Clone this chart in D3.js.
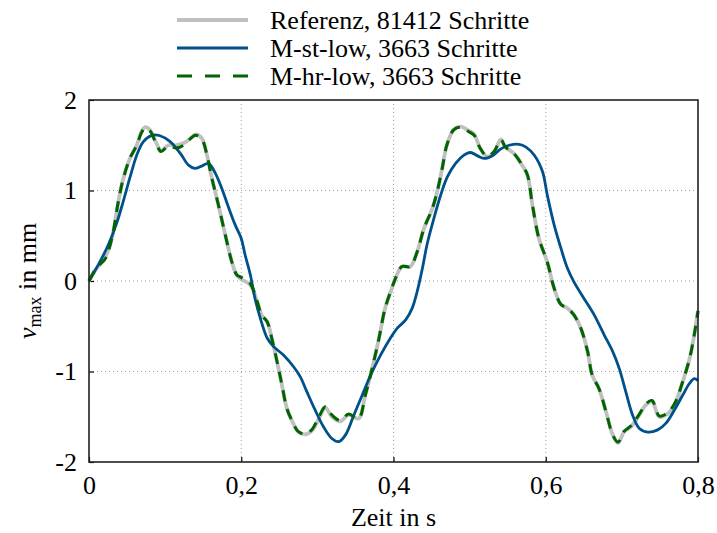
<!DOCTYPE html>
<html>
<head>
<meta charset="utf-8">
<script src="https://cdn.jsdelivr.net/npm/d3@7"></script>
<style>
  body { margin: 0; background: #fff; }
  text { font-family: "Liberation Serif", "DejaVu Serif", serif; fill: #000; }
</style>
</head>
<body>
<div id="chart"></div>
<script>
// Zeit in s / v_max in mm
const refT = [0, 0.010, 0.021, 0.030, 0.0386, 0.045, 0.054, 0.0627, 0.069, 0.0737, 0.080, 0.0877, 0.0947, 0.104, 0.115, 0.126, 0.134, 0.140, 0.148, 0.155, 0.161, 0.170, 0.179, 0.188, 0.194, 0.200,
  0.212, 0.221, 0.227, 0.234, 0.240, 0.247, 0.2535, 0.260, 0.267, 0.275, 0.284, 0.293, 0.302, 0.3105, 0.319, 0.330, 0.341, 0.354, 0.363, 0.372, 0.381, 0.389, 0.397,
  0.4026, 0.411, 0.422, 0.431, 0.440, 0.451, 0.4575, 0.464, 0.470, 0.479, 0.488, 0.499, 0.506, 0.514, 0.523, 0.532, 0.541, 0.547, 0.558, 0.569, 0.576, 0.5825, 0.591,
  0.602, 0.611, 0.620, 0.6285, 0.637, 0.646, 0.655, 0.661, 0.670, 0.679, 0.688, 0.695, 0.703, 0.712, 0.723, 0.7315, 0.7395, 0.749, 0.758, 0.769, 0.780, 0.789, 0.795, 0.800];
const refV = [0, 0.14, 0.26, 0.47, 0.88, 1.13, 1.36, 1.50, 1.65, 1.70, 1.67, 1.54, 1.44, 1.50, 1.50, 1.53, 1.58, 1.62, 1.58, 1.39, 1.15, 0.84, 0.51, 0.20, 0.066, 0.02,
  -0.044, -0.23, -0.38, -0.45, -0.63, -0.89, -1.15, -1.41, -1.55, -1.665, -1.695, -1.65, -1.52, -1.40, -1.50, -1.55, -1.48, -1.52, -1.26, -0.965, -0.63, -0.30, -0.10,
  0.03, 0.16, 0.16, 0.32, 0.58, 0.80, 0.99, 1.245, 1.50, 1.67, 1.705, 1.66, 1.62, 1.465, 1.375, 1.42, 1.565, 1.48, 1.41, 1.28, 1.17, 0.84, 0.47,
  0.21, -0.08, -0.26, -0.30, -0.375, -0.52, -0.78, -1.04, -1.19, -1.44, -1.70, -1.79, -1.665, -1.61, -1.48, -1.37, -1.33, -1.50, -1.48, -1.37, -1.11, -0.855, -0.60, -0.33];

const stT = [0, 0.0123, 0.0254, 0.0364, 0.045, 0.054, 0.0627, 0.0715, 0.0825, 0.0934, 0.1066, 0.120, 0.1307, 0.139, 0.148, 0.157, 0.166, 0.1746, 0.183, 0.192, 0.200,
  0.205, 0.212, 0.218, 0.225, 0.234, 0.2425, 0.2557, 0.269, 0.2776, 0.286, 0.297, 0.308, 0.319, 0.328, 0.337, 0.348, 0.359, 0.370, 0.383, 0.396,
  0.405, 0.416, 0.4246, 0.431, 0.438, 0.444, 0.453, 0.462, 0.4707, 0.4816, 0.4925, 0.501, 0.510, 0.519, 0.530, 0.541, 0.552, 0.565, 0.574, 0.585, 0.5957,
  0.602, 0.611, 0.620, 0.6285, 0.637, 0.650, 0.6636, 0.677, 0.688, 0.6965, 0.705, 0.714, 0.723, 0.734, 0.747, 0.758, 0.769, 0.780, 0.789, 0.795, 0.800];
const stV = [0, 0.18, 0.40, 0.64, 0.88, 1.15, 1.39, 1.54, 1.61, 1.605, 1.54, 1.41, 1.28, 1.245, 1.27, 1.30, 1.19, 1.02, 0.82, 0.62, 0.47,
  0.29, 0.066, -0.19, -0.41, -0.63, -0.725, -0.82, -0.95, -1.06, -1.22, -1.425, -1.61, -1.74, -1.775, -1.70, -1.48, -1.26, -1.04, -0.82, -0.63,
  -0.52, -0.43, -0.30, -0.12, 0.14, 0.40, 0.69, 0.95, 1.15, 1.30, 1.39, 1.42, 1.385, 1.355, 1.385, 1.46, 1.50, 1.51, 1.48, 1.39, 1.21,
  0.95, 0.62, 0.36, 0.14, -0.01, -0.19, -0.375, -0.60, -0.78, -0.965, -1.22, -1.48, -1.63, -1.67, -1.645, -1.57, -1.425, -1.26, -1.13, -1.08, -1.10];

const hrT = [0, 0.010, 0.021, 0.030, 0.0386, 0.045, 0.054, 0.0627, 0.069, 0.0737, 0.080, 0.0877, 0.0947, 0.104, 0.115, 0.126, 0.134, 0.140, 0.148, 0.155, 0.161, 0.170, 0.179, 0.188, 0.194, 0.200,
  0.212, 0.221, 0.227, 0.234, 0.240, 0.247, 0.2535, 0.260, 0.267, 0.275, 0.284, 0.293, 0.302, 0.3105, 0.319, 0.330, 0.341, 0.354, 0.363, 0.372, 0.381, 0.389, 0.397,
  0.4026, 0.411, 0.422, 0.431, 0.440, 0.451, 0.4575, 0.464, 0.470, 0.479, 0.488, 0.499, 0.506, 0.514, 0.523, 0.532, 0.541, 0.547, 0.558, 0.569, 0.576, 0.5825, 0.591,
  0.602, 0.611, 0.620, 0.6285, 0.637, 0.646, 0.655, 0.661, 0.670, 0.679, 0.688, 0.695, 0.703, 0.712, 0.723, 0.7315, 0.7395, 0.749, 0.758, 0.769, 0.780, 0.789, 0.795, 0.800];
const hrV = [0, 0.15, 0.24, 0.47, 0.88, 1.13, 1.36, 1.50, 1.64, 1.69, 1.66, 1.53, 1.43, 1.49, 1.47, 1.51, 1.58, 1.61, 1.57, 1.39, 1.15, 0.84, 0.51, 0.20, 0.07, 0.04,
  -0.03, -0.23, -0.38, -0.45, -0.63, -0.89, -1.15, -1.41, -1.55, -1.665, -1.69, -1.64, -1.50, -1.39, -1.48, -1.54, -1.47, -1.52, -1.26, -0.965, -0.63, -0.30, -0.10,
  0.03, 0.16, 0.16, 0.32, 0.58, 0.80, 0.99, 1.245, 1.50, 1.67, 1.70, 1.65, 1.61, 1.465, 1.38, 1.43, 1.56, 1.48, 1.41, 1.28, 1.17, 0.84, 0.47,
  0.21, -0.08, -0.26, -0.30, -0.375, -0.52, -0.78, -1.04, -1.19, -1.44, -1.70, -1.78, -1.66, -1.60, -1.47, -1.36, -1.32, -1.49, -1.47, -1.36, -1.11, -0.855, -0.60, -0.33];

const xTicks = [0, 0.2, 0.4, 0.6, 0.8];
const yTicks = [-2, -1, 0, 1, 2];
const legendLabels = ["Referenz, 81412 Schritte", "M-st-low, 3663 Schritte", "M-hr-low, 3663 Schritte"];

const W = 717, H = 533;
const plotL = 89, plotR = 698, plotT = 100, plotB = 462;
const fontSize = "26px";

const x = d3.scaleLinear().domain([0, 0.8]).range([plotL, plotR]);
const y = d3.scaleLinear().domain([-2, 2]).range([plotB, plotT]);

const svg = d3.select("#chart").append("svg")
    .attr("width", W)
    .attr("height", H);

// grid (dotted)
const grid = svg.append("g");
grid.selectAll("line.gx")
    .data(xTicks.slice(1, -1))
    .enter().append("line")
    .attr("x1", d => x(d)).attr("x2", d => x(d))
    .attr("y1", plotT).attr("y2", plotB)
    .attr("stroke", "#a0a0a0").attr("stroke-width", 1)
    .attr("stroke-dasharray", "1,3");
grid.selectAll("line.gy")
    .data(yTicks.slice(1, -1))
    .enter().append("line")
    .attr("x1", plotL).attr("x2", plotR)
    .attr("y1", d => y(d)).attr("y2", d => y(d))
    .attr("stroke", "#a0a0a0").attr("stroke-width", 1)
    .attr("stroke-dasharray", "1,3");

const fmt = d => String(d).replace(".", ",");

// axes with inward ticks
const xAxis = svg.append("g")
    .attr("transform", `translate(0, ${plotB})`)
    .call(d3.axisBottom(x).tickValues(xTicks).tickSize(-5).tickPadding(14).tickFormat(fmt));
const yAxis = svg.append("g")
    .attr("transform", `translate(${plotL}, 0)`)
    .call(d3.axisLeft(y).tickValues(yTicks).tickSize(-5).tickPadding(12).tickFormat(d => d));
[xAxis, yAxis].forEach(a => {
    a.attr("font-family", null).attr("font-size", null);
    a.select(".domain").remove();
    a.selectAll(".tick line").attr("stroke", "#000").attr("stroke-width", 1.2);
    a.selectAll("text").style("font-size", fontSize);
});
xAxis.selectAll("text").attr("dy", "0.71em");

// curves
const line = d3.line()
    .x(d => x(d[0]))
    .y(d => y(d[1]))
    .curve(d3.curveCatmullRom.alpha(0.5));

const plot = svg.append("g");
plot.append("path")
    .datum(d3.zip(refT, refV))
    .attr("d", line)
    .attr("fill", "none").attr("stroke", "#c0c0c0").attr("stroke-width", 3.8);
plot.append("path")
    .datum(d3.zip(stT, stV))
    .attr("d", line)
    .attr("fill", "none").attr("stroke", "#00508c").attr("stroke-width", 2.8);
plot.append("path")
    .datum(d3.zip(hrT, hrV))
    .attr("d", line)
    .attr("fill", "none").attr("stroke", "#006400").attr("stroke-width", 3)
    .attr("stroke-dasharray", "11,8");

// frame
svg.append("rect")
    .attr("x", plotL).attr("y", plotT)
    .attr("width", plotR - plotL).attr("height", plotB - plotT)
    .attr("fill", "none").attr("stroke", "#222").attr("stroke-width", 1.6);

// axis titles
svg.append("text")
    .attr("x", (plotL + plotR) / 2)
    .attr("y", 526)
    .attr("text-anchor", "middle")
    .style("font-size", fontSize)
    .text("Zeit in s");

const yl = svg.append("text")
    .attr("transform", `translate(36, ${(plotT + plotB) / 2}) rotate(-90)`)
    .attr("text-anchor", "middle")
    .style("font-size", fontSize);
yl.append("tspan").style("font-style", "italic").text("v");
yl.append("tspan").attr("dy", 5).style("font-size", "18px").text("max");
yl.append("tspan").attr("dy", -5).text(" in mm");

// legend
const legendStyles = [
    { stroke: "#c0c0c0", width: 3.8, dash: null },
    { stroke: "#00508c", width: 2.8, dash: null },
    { stroke: "#006400", width: 3, dash: "15,13" }
];
const legend = svg.append("g");
legendLabels.forEach((lab, i) => {
    const ly = 20 + i * 28;
    legend.append("line")
        .attr("x1", 177).attr("x2", 248)
        .attr("y1", ly).attr("y2", ly)
        .attr("stroke", legendStyles[i].stroke)
        .attr("stroke-width", legendStyles[i].width)
        .attr("stroke-dasharray", legendStyles[i].dash);
    legend.append("text")
        .attr("x", 270).attr("y", ly)
        .attr("dy", "0.35em")
        .style("font-size", fontSize)
        .text(lab);
});
</script>
</body>
</html>
